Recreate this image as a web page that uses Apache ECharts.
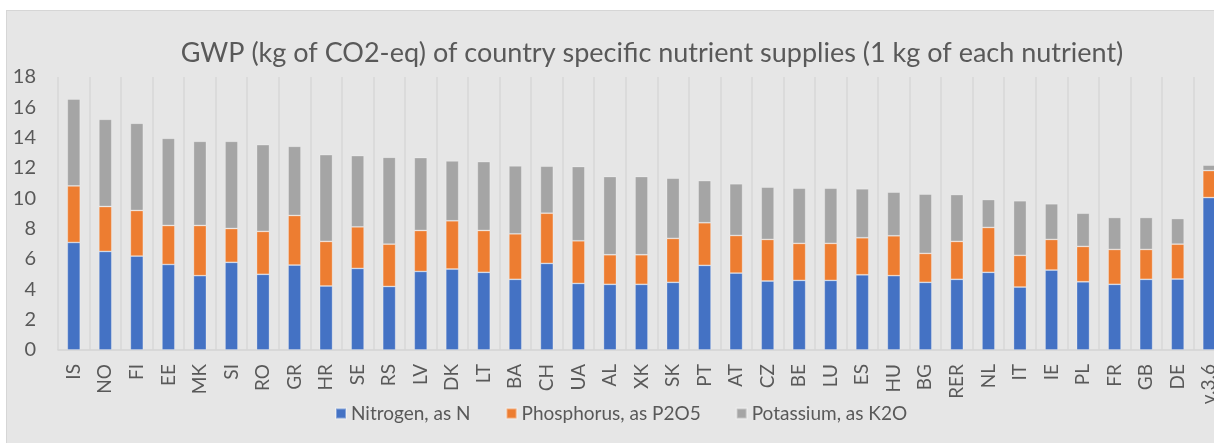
<!DOCTYPE html>
<html>
<head>
<meta charset="utf-8">
<title>GWP of country specific nutrient supplies</title>
<script src="https://cdn.jsdelivr.net/npm/echarts@6/dist/echarts.min.js"></script>
<style>
  html, body { margin: 0; padding: 0; background: #ffffff; overflow: hidden; }
  .frame {
    position: absolute;
    left: 6px;
    top: 10px;
    width: 1240px;
    height: 440px;
    background: #e6e6e6;
    border: 1px solid #d6d6d6;
  }
  /* the plot runs a little past the right edge of the window, as in the source */
  #chart { position: absolute; left: 0; top: 0; width: 1240px; height: 443px; }
</style>
</head>
<body>
<div class="frame"></div>
<div id="chart"></div>
<script>
// countries / datasets on the category axis
var countries = ["IS", "NO", "FI", "EE", "MK", "SI", "RO", "GR", "HR", "SE", "RS", "LV",
  "DK", "LT", "BA", "CH", "UA", "AL", "XK", "SK", "PT", "AT", "CZ", "BE", "LU", "ES",
  "HU", "BG", "RER", "NL", "IT", "IE", "PL", "FR", "GB", "DE", "v.3.6"];

// kg CO2-eq per kg of nutrient
var nitrogen = [7.09, 6.50, 6.19, 5.64, 4.90, 5.78, 4.99, 5.60, 4.22, 5.38, 4.19, 5.18,
  5.34, 5.12, 4.66, 5.71, 4.39, 4.33, 4.33, 4.46, 5.58, 5.07, 4.55, 4.59, 4.59, 4.96,
  4.90, 4.46, 4.66, 5.12, 4.15, 5.27, 4.50, 4.33, 4.66, 4.68, 10.05];
var phosphorus = [3.73, 2.96, 3.01, 2.57, 3.31, 2.23, 2.83, 3.27, 2.94, 2.74, 2.79, 2.70,
  3.18, 2.76, 3.00, 3.31, 2.81, 1.95, 1.95, 2.90, 2.81, 2.48, 2.74, 2.44, 2.44, 2.44,
  2.63, 1.91, 2.50, 2.96, 2.09, 2.02, 2.33, 2.30, 1.97, 2.30, 1.78];
var potassium = [5.73, 5.75, 5.75, 5.75, 5.55, 5.75, 5.72, 4.56, 5.72, 4.70, 5.73, 4.81,
  3.95, 4.54, 4.48, 3.10, 4.90, 5.16, 5.16, 3.97, 2.78, 3.41, 3.45, 3.64, 3.64, 3.23,
  2.88, 3.91, 3.09, 1.84, 3.60, 2.35, 2.19, 2.11, 2.11, 1.69, 0.36];

var seriesNames = ["Nitrogen, as N", "Phosphorus, as P2O5", "Potassium, as K2O"];
var seriesColors = ["#4472c4", "#ed7d31", "#a5a5a5"];

var chart = echarts.init(document.getElementById("chart"));

function barSeries(i, values) {
  return {
    name: seriesNames[i],
    type: "bar",
    stack: "total",
    barWidth: "41%",
    data: values,
    itemStyle: {
      color: seriesColors[i],
      borderColor: "rgba(255,255,255,0.35)",
      borderWidth: 0.8
    }
  };
}

chart.setOption({
  backgroundColor: "transparent",
  textStyle: { fontFamily: "Lato" },
  title: {
    text: "GWP (kg of CO2-eq) of country specific nutrient supplies (1 kg of each nutrient)",
    left: 647,
    textAlign: "center",
    top: 35,
    textStyle: { color: "#595959", fontSize: 27, fontWeight: "normal", fontFamily: "Lato" }
  },
  legend: {
    data: seriesNames,
    left: 330,
    top: 399,
    icon: "rect",
    itemWidth: 10,
    itemHeight: 10,
    itemGap: 35,
    textStyle: { color: "#595959", fontSize: 19, fontFamily: "Lato" }
  },
  grid: {
    left: 58,
    right: 15,
    top: 77,
    bottom: 93
  },
  xAxis: {
    type: "category",
    data: countries,
    boundaryGap: true,
    axisLine: { lineStyle: { color: "#d4d4d4", width: 1.5 } },
    axisTick: { show: false },
    splitLine: { show: true, lineStyle: { color: "#d7d7d7", width: 1.5 } },
    axisLabel: {
      rotate: 90,
      interval: 0,
      margin: 14,
      color: "#595959",
      fontSize: 19,
      fontFamily: "Lato"
    }
  },
  yAxis: {
    type: "value",
    min: 0,
    max: 18,
    interval: 2,
    axisLine: { show: false },
    axisTick: { show: false },
    splitLine: { show: false },
    axisLabel: { color: "#595959", fontSize: 20, margin: 22, fontFamily: "Lato" }
  },
  series: [
    barSeries(0, nitrogen),
    barSeries(1, phosphorus),
    barSeries(2, potassium)
  ]
});
</script>
</body>
</html>
